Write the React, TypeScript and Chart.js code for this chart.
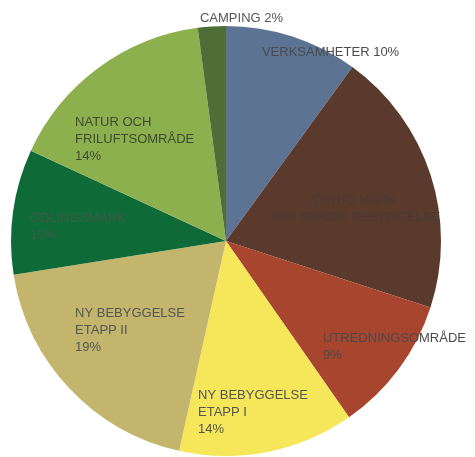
import React, { useEffect, useRef } from "react";
import { Chart, registerables } from "chart.js";

Chart.register(...registerables);

const categories = [
  "VERKSAMHETER",
  "SPRIDD BEBYGGELSE",
  "UTREDNINGSOMRÅDE",
  "NY BEBYGGELSE ETAPP I",
  "NY BEBYGGELSE ETAPP II",
  "ODLINGSMARK",
  "NATUR OCH FRILUFTSOMRÅDE",
  "CAMPING",
];
const values = [10, 20, 10.3, 13.2, 19, 9.4, 16, 2.1];
const labelLines = [
  ["VERKSAMHETER 10%"],
  ["ÖVRIG MARK", "20% SPRIDD BEBYGGELSE"],
  ["UTREDNINGSOMRÅDE", "9%"],
  ["NY BEBYGGELSE", "ETAPP I", "14%"],
  ["NY BEBYGGELSE", "ETAPP II", "19%"],
  ["ODLINGSMARK", "10%"],
  ["NATUR OCH", "FRILUFTSOMRÅDE", "14%"],
  ["CAMPING 2%"],
];
const colors = [
  "#5d7393",
  "#5a3a2d",
  "#a8452e",
  "#f5e65a",
  "#c3b56b",
  "#0e6a37",
  "#8cb04e",
  "#4f6d36",
];
const textColors = ["#4a4a4a", "#4a3b35", "#4a4a4a", "#555555", "#555555", "#3f5a45", "#3f4a30", "#555555"];
// label anchor relative to pie centre, in units of radius
const labelLayout = [
  { dx: 0.167, dy: -0.879, align: "left" },
  { dx: 0.6, dy: -0.191, align: "center" },
  { dx: 0.451, dy: 0.451, align: "left" },
  { dx: -0.13, dy: 0.716, align: "left" },
  { dx: -0.702, dy: 0.335, align: "left" },
  { dx: -0.912, dy: -0.107, align: "left" },
  { dx: -0.702, dy: -0.553, align: "left" },
  { dx: -0.121, dy: -1.037, align: "left" },
];

const labelPlugin = {
  id: "sliceLabels",
  afterDatasetsDraw(chart: any) {
    const meta = chart.getDatasetMeta(0);
    const arc = meta.data[0];
    if (!arc) return;
    const cx = arc.x;
    const cy = arc.y;
    const r = arc.outerRadius;
    const ctx = chart.ctx;
    ctx.save();
    ctx.font = "13px 'Liberation Sans', Arial, sans-serif";
    ctx.textBaseline = "middle";
    labelLines.forEach((lines, i) => {
      const lay = labelLayout[i];
      ctx.fillStyle = textColors[i];
      ctx.textAlign = lay.align as CanvasTextAlign;
      lines.forEach((line, j) => {
        ctx.fillText(line, cx + lay.dx * r, cy + lay.dy * r + j * 17);
      });
    });
    ctx.restore();
  },
};

export default function App() {
  const ref = useRef<HTMLCanvasElement | null>(null);
  useEffect(() => {
    if (!ref.current) return;
    const chart = new Chart(ref.current, {
      type: "pie",
      data: {
        labels: categories,
        datasets: [
          {
            data: values,
            backgroundColor: colors,
            borderWidth: 0,
          },
        ],
      },
      options: {
        animation: false,
        responsive: true,
        maintainAspectRatio: false,
        layout: { padding: { left: 11, right: 34, top: 26, bottom: 1 } },
        plugins: {
          legend: { display: false },
          tooltip: { enabled: false },
        },
      },
      plugins: [labelPlugin],
    });
    return () => chart.destroy();
  }, []);
  return (
    <div style={{ position: "absolute", left: 0, top: 0, width: 475, height: 457, background: "#fff" }}>
      <canvas ref={ref} />
    </div>
  );
}
